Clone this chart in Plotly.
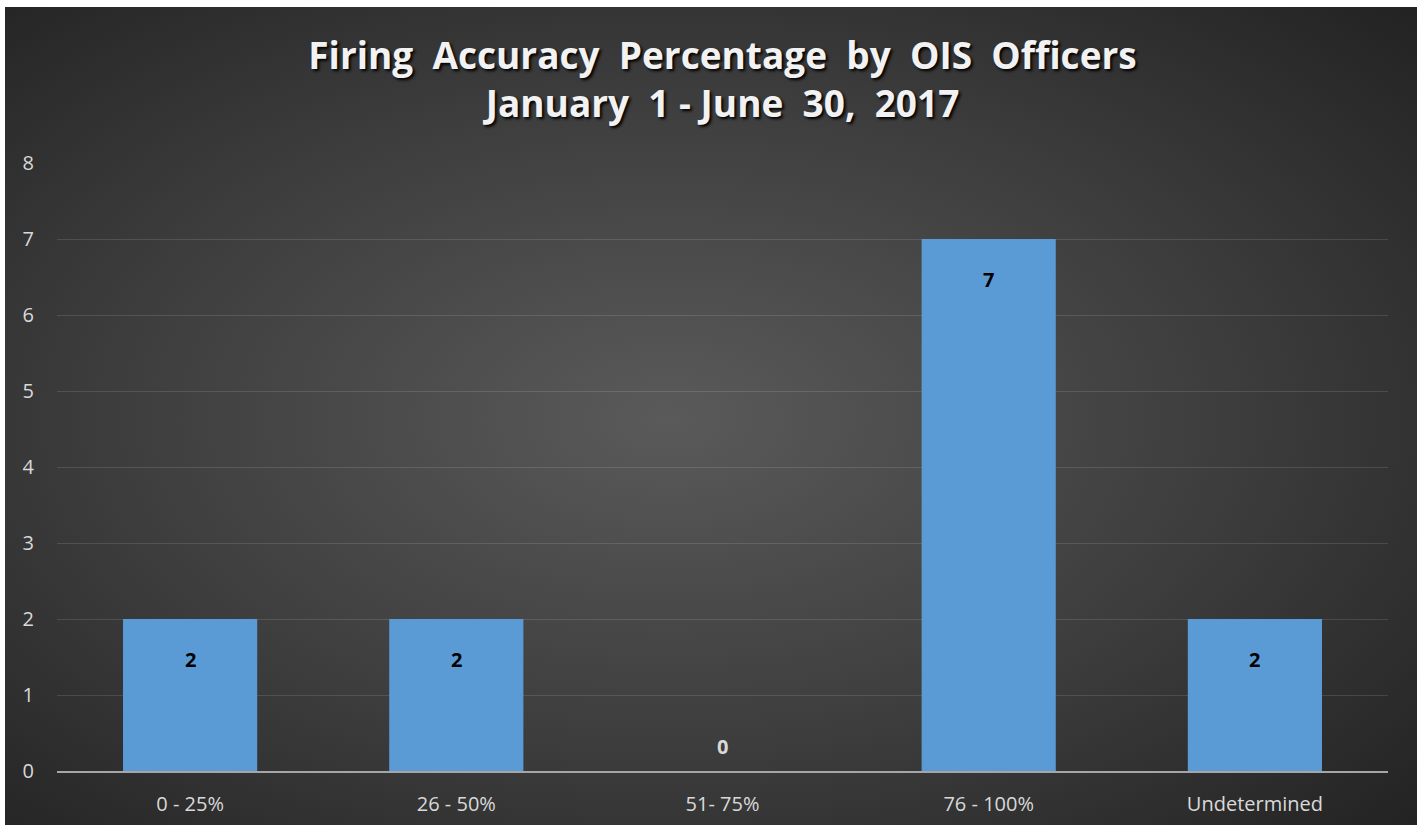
import base64
import plotly.graph_objects as go

categories = ["0 - 25%", "26 - 50%", "51- 75%", "76 - 100%", "Undetermined"]
values = [2, 2, 0, 7, 2]
y_ticks = [0, 1, 2, 3, 4, 5, 6, 7, 8]
title_line1 = "Firing  Accuracy  Percentage  by  OIS  Officers"
title_line2 = "January  1 - June  30,  2017"

W, H = 1422, 825
ml, mr, mt, mb = 57, 34, 163, 54
pw, ph = W - ml - mr, H - mt - mb

svg = """<svg xmlns='http://www.w3.org/2000/svg' width='1412' height='818' viewBox='0 0 1412 818' preserveAspectRatio='none'>
<defs><radialGradient id='g' cx='0.47' cy='0.5' r='0.72'>
<stop offset='0' stop-color='#5a5a5a'/>
<stop offset='0.55' stop-color='#3d3d3d'/>
<stop offset='1' stop-color='#232323'/>
</radialGradient></defs>
<rect width='1412' height='818' fill='url(#g)'/></svg>"""
src = "data:image/svg+xml;base64," + base64.b64encode(svg.encode()).decode()

# image pixel rect: x 5..1417, y 7..(past bottom)
img_x = (5 - ml) / pw
img_y = (H - mb - 7) / ph
img_sx = 1412 / pw
img_sy = 824 / ph

text_colors = ["#000000" if v > 0 else "#d9d9d9" for v in values]

fig = go.Figure()
fig.add_trace(go.Bar(
    x=categories, y=values,
    marker=dict(color="#5B9BD5", line=dict(width=0)),
    width=0.504,
    hoverinfo="skip",
))

annotations = []
for c, v, col in zip(categories, values, text_colors):
    annotations.append(dict(
        x=c, y=v, xref="x", yref="y", text=str(v), showarrow=False,
        yshift=-40 if v > 0 else 25,
        font=dict(family="Open Sans", size=20, color=col, weight="bold"),
    ))

fig.update_layout(
    width=W, height=H,
    margin=dict(l=ml, r=mr, t=mt, b=mb, autoexpand=False),
    paper_bgcolor="white",
    plot_bgcolor="rgba(0,0,0,0)",
    showlegend=False,
    title=dict(
        text=title_line1 + "<br>" + title_line2,
        x=0.5, xref="paper", xanchor="center",
        y=1 - 69 / H, yref="container", yanchor="middle",
        font=dict(family="Open Sans", size=37, color="#f2f2f2", weight="bold",
                  shadow="2px 2px 3px #000000"),
    ),
    images=[dict(source=src, xref="paper", yref="paper", x=img_x, y=img_y,
                 sizex=img_sx, sizey=img_sy, sizing="stretch",
                 xanchor="left", yanchor="top", layer="below")],
    annotations=annotations,
    xaxis=dict(
        showgrid=False, showline=True, linecolor="#a6a6a6", linewidth=1.5,
        tickfont=dict(family="Open Sans", size=20, color="#d9d9d9"),
        ticks="", ticklabelstandoff=14, fixedrange=True, automargin=False,
    ),
    yaxis=dict(
        range=[0, 8], tickvals=y_ticks, showgrid=True,
        gridcolor="rgba(255,255,255,0.12)", gridwidth=1,
        zeroline=False, showline=False,
        tickfont=dict(family="Open Sans", size=20, color="#d9d9d9"),
        ticks="", ticklabelstandoff=22, fixedrange=True, automargin=False,
    ),
)

fig.write_html("out.html", config={"displayModeBar": False},
               post_script="document.body.style.margin='0';")
